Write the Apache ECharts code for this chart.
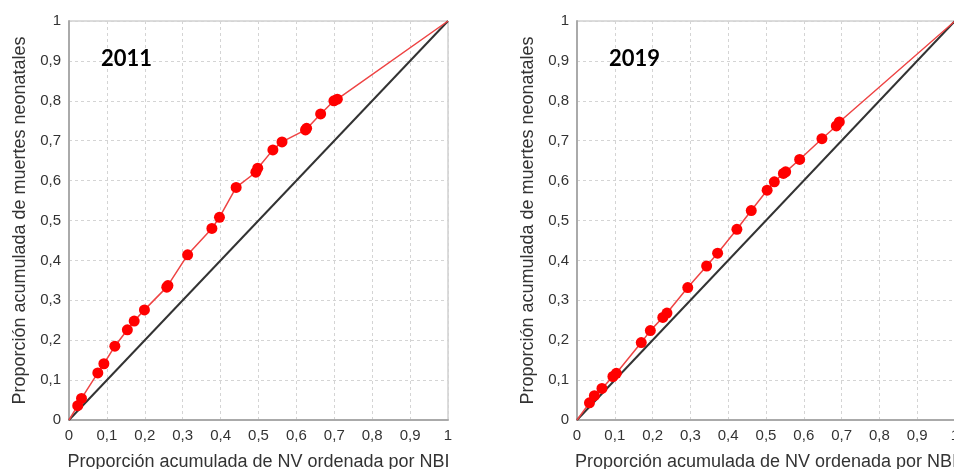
<!DOCTYPE html>
<html>
<head>
<meta charset="utf-8">
<script src="https://cdn.jsdelivr.net/npm/echarts@6/dist/echarts.min.js"></script>
<style>html,body{margin:0;padding:0;background:#fff;}#c{width:954px;height:469px;}</style>
</head>
<body>
<div id="c"></div>
<script>
const years = ['2011', '2019'];
const xTitle = 'Proporción acumulada de NV ordenada por NBI';
const yTitle = 'Proporción acumulada de muertes neonatales';
const tickValues = [0, 0.1, 0.2, 0.3, 0.4, 0.5, 0.6, 0.7, 0.8, 0.9, 1];
const equality = [[0, 0], [1, 1]];
const curve2011 = [[0,0],[0.023,0.036],[0.033,0.054],[0.076,0.118],[0.092,0.141],[0.121,0.185],[0.154,0.226],[0.172,0.248],[0.199,0.276],[0.258,0.333],[0.261,0.337],[0.313,0.414],[0.377,0.480],[0.397,0.508],[0.441,0.583],[0.493,0.621],[0.498,0.631],[0.538,0.677],[0.562,0.697],[0.624,0.727],[0.627,0.731],[0.664,0.767],[0.699,0.800],[0.708,0.804],[1,1]];
const curve2019 = [[0,0],[0.033,0.043],[0.046,0.061],[0.066,0.079],[0.095,0.109],[0.104,0.117],[0.170,0.194],[0.194,0.224],[0.227,0.257],[0.238,0.268],[0.293,0.332],[0.343,0.386],[0.372,0.418],[0.423,0.478],[0.461,0.525],[0.503,0.576],[0.522,0.597],[0.546,0.618],[0.552,0.622],[0.589,0.653],[0.648,0.705],[0.686,0.737],[0.694,0.747],[1,1]];
const curves = [curve2011, curve2019];

const fmt = v => (v === 0 ? '0' : v === 1 ? '1' : v.toFixed(1).replace('.', ','));
const font = 'Liberation Sans, Arial, sans-serif';

function axisCommon(name, gap) {
  return {
    type: 'value', min: 0, max: 1, interval: 0.1,
    name: name, nameLocation: 'middle', nameGap: gap,
    nameTextStyle: { fontFamily: font, fontSize: 18, color: '#333' },
    axisLine: { show: true, lineStyle: { color: '#aaa', width: 2 } },
    axisTick: { show: false },
    axisLabel: { formatter: fmt, fontFamily: font, fontSize: 15, color: '#333', margin: 8 },
    splitLine: { show: true, lineStyle: { color: '#d4d4d4', type: [3, 3], width: 1 } }
  };
}

const grids = [
  { left: 69, top: 21, width: 379, height: 399, show: true, borderColor: '#b8b8b8', borderWidth: 1, outerBoundsMode: 'none', containLabel: false },
  { left: 577, top: 21, width: 378, height: 399, show: true, borderColor: '#b8b8b8', borderWidth: 1, outerBoundsMode: 'none', containLabel: false }
];

const xAxes = grids.map((g, i) => Object.assign(axisCommon(xTitle, 33), { gridIndex: i }));
const yAxes = grids.map((g, i) => Object.assign(axisCommon(yTitle, 40), { gridIndex: i }));

const series = [];
curves.forEach((c, i) => {
  series.push({
    type: 'line', xAxisIndex: i, yAxisIndex: i, data: equality,
    symbol: 'none', lineStyle: { color: '#333', width: 2 }, silent: true, z: 2
  });
  series.push({
    type: 'line', xAxisIndex: i, yAxisIndex: i,
    data: c.map((p, k) => (k === 0 || k === c.length - 1) ? { value: p, symbol: 'none' } : { value: p }),
    symbol: 'circle', symbolSize: 11,
    itemStyle: { color: '#ff0000' },
    lineStyle: { color: '#ee4444', width: 1.5 },
    z: 3
  });
});

const chart = echarts.init(document.getElementById('c'), null, { renderer: 'canvas' });
chart.setOption({
  animation: false,
  backgroundColor: '#fff',
  title: [
    { text: years[0], left: 96, top: 43, textStyle: { fontFamily: 'Lato, sans-serif', fontWeight: 'bold', fontSize: 22, color: '#000' } },
    { text: years[1], left: 604, top: 43, textStyle: { fontFamily: 'Lato, sans-serif', fontWeight: 'bold', fontSize: 22, color: '#000' } }
  ],
  grid: grids,
  xAxis: xAxes,
  yAxis: yAxes,
  series: series
});
</script>
</body>
</html>
